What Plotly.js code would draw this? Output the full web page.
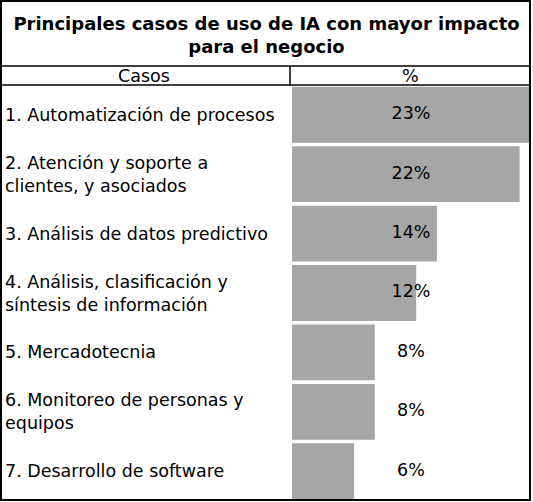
<!DOCTYPE html>
<html>
<head>
<meta charset="utf-8">
<script src="https://cdn.plot.ly/plotly-3.0.1.min.js"></script>
<style>
  html, body { margin: 0; padding: 0; background: #ffffff; }
  #chart { width: 533px; height: 502px; }
</style>
</head>
<body>
<div id="chart"></div>
<script>
// Use cases and share of respondents (%)
const categories = [
  "1. Automatización de procesos",
  "2. Atención y soporte a<br>clientes, y asociados",
  "3. Análisis de datos predictivo",
  "4. Análisis, clasificación y<br>síntesis de información",
  "5. Mercadotecnia",
  "6. Monitoreo de personas y<br>equipos",
  "7. Desarrollo de software"
];
const values = [23, 22, 14, 12, 8, 8, 6];
const headerLabels = ["Casos", "%"];
const titleText = "Principales casos de uso de IA con mayor impacto<br>para el negocio";

const W = 533, H = 502;
const M = { l: 292, r: 3, t: 85, b: 1 };
const plotW = W - M.l - M.r, plotH = H - M.t - M.b;
// pixel -> paper coordinate helpers for table lines and labels
const px = x => (x - M.l) / plotW;
const py = y => 1 - (y - M.t) / plotH;

const FONT = "DejaVu Sans, Verdana, sans-serif";
const TXT = 17.5;
const xMax = Math.max(...values);

const bars = {
  type: "bar",
  orientation: "h",
  x: values,
  y: categories,
  marker: { color: "#A6A6A6", line: { width: 0 } },
  hoverinfo: "skip"
};

// value labels centred in the "%" column
const valueLabels = {
  type: "scatter",
  mode: "text",
  x: values.map(() => xMax / 2),
  y: categories,
  text: values.map(v => v + "%"),
  textposition: "middle center",
  textfont: { family: FONT, size: TXT, color: "#000000" },
  hoverinfo: "skip",
  cliponaxis: false
};

const caseLabels = categories.map(c => ({
  text: c,
  xref: "paper", yref: "y",
  x: px(3), y: c,
  xanchor: "left", yanchor: "middle", align: "left",
  showarrow: false,
  font: { family: FONT, size: TXT, color: "#000000" }
}));

const headerAnn = [
  { text: headerLabels[0], x: px(144), y: py(76) },
  { text: headerLabels[1], x: px(410), y: py(76) }
].map(a => Object.assign(a, {
  xref: "paper", yref: "paper",
  xanchor: "center", yanchor: "middle",
  showarrow: false,
  font: { family: FONT, size: TXT, color: "#000000" }
}));

const lineStyle = { color: "#000000", width: 1.5 };
const shapes = [
  { type: "rect", xref: "paper", yref: "paper",
    x0: px(1), x1: px(530), y0: py(1), y1: py(500),
    line: { color: "#000000", width: 2 }, layer: "above" },
  { type: "line", xref: "paper", yref: "paper",
    x0: px(0), x1: px(531), y0: py(66), y1: py(66), line: lineStyle },
  { type: "line", xref: "paper", yref: "paper",
    x0: px(0), x1: px(531), y0: py(85), y1: py(85), line: lineStyle },
  { type: "line", xref: "paper", yref: "paper",
    x0: px(290), x1: px(290), y0: py(66), y1: py(85), line: lineStyle }
];

const layout = {
  width: W, height: H,
  margin: M,
  paper_bgcolor: "#ffffff",
  plot_bgcolor: "#ffffff",
  showlegend: false,
  bargap: 0.06,
  title: {
    text: "<b>" + titleText + "</b>",
    font: { family: FONT, size: 18, color: "#000000" },
    xref: "container", x: 0.5, xanchor: "center",
    yref: "container", y: 1 - 30 / H, yanchor: "middle"
  },
  xaxis: {
    range: [0, xMax], visible: false, fixedrange: true
  },
  yaxis: {
    type: "category", autorange: "reversed",
    showticklabels: false, showgrid: false, zeroline: false,
    showline: false, ticks: "", fixedrange: true
  },
  annotations: caseLabels.concat(headerAnn),
  shapes: shapes
};

Plotly.newPlot("chart", [bars, valueLabels], layout, { displayModeBar: false, staticPlot: true });
</script>
</body>
</html>
